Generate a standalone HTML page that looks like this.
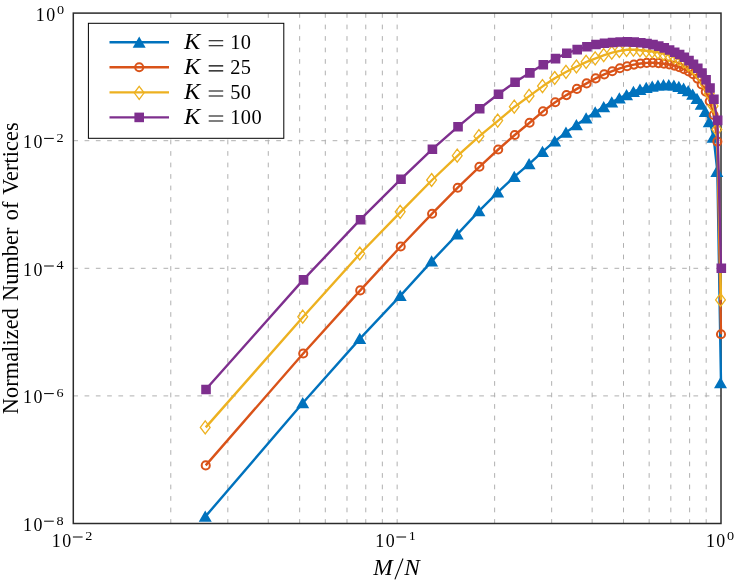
<!DOCTYPE html>
<html><head><meta charset="utf-8"><title>chart</title>
<style>html,body{margin:0;padding:0;background:#fff}svg{display:block;will-change:transform}</style></head>
<body>
<svg width="747" height="585" viewBox="0 0 747 585">
<rect width="747" height="585" fill="#fff"/>
<path d="M170.79 13.1V523.5M227.82 13.1V523.5M268.28 13.1V523.5M299.66 13.1V523.5M325.3 13.1V523.5M346.99 13.1V523.5M365.77 13.1V523.5M382.33 13.1V523.5M494.64 13.1V523.5M551.67 13.1V523.5M592.13 13.1V523.5M623.51 13.1V523.5M649.15 13.1V523.5M670.84 13.1V523.5M689.62 13.1V523.5M706.18 13.1V523.5M397.15 13.1V523.5" fill="none" stroke="#b0b0b0" stroke-width="1" stroke-dasharray="4.7 6.8"/>
<path d="M73.3 140.7H721M73.3 268.3H721M73.3 395.9H721" fill="none" stroke="#b0b0b0" stroke-width="1" stroke-dasharray="4.7 6.575"/>
<rect x="73.3" y="13.1" width="647.7" height="510.4" fill="none" stroke="#2b2b2b" stroke-width="1.5"/>
<polyline fill="none" stroke="#0072BD" stroke-width="2.4" stroke-linejoin="round" points="205.73,516.15 303.22,402.55 360.25,338.35 400.71,295.35 432.1,260.85 457.74,233.85 479.42,210.65 498.2,191.85 514.77,176.45 529.58,163.65 542.99,151.45 555.23,140.95 566.48,132.15 576.91,124.55 586.61,117.95 595.69,111.95 604.21,106.55 612.25,101.85 619.86,97.95 627.07,94.55 633.93,91.45 640.48,89.25 646.73,87.45 652.72,86.15 658.46,85.15 663.97,84.75 669.28,84.75 674.4,85.15 679.33,86.35 684.1,88.25 688.71,90.65 693.18,94.05 697.5,98.35 701.7,104.05 705.78,111.25 709.74,121.65 713.6,137.05 717.35,171.25 721,382.55"/>
<path fill="#0072BD" d="M205.23 510.52L211.73 521.77L198.74 521.77ZM302.72 396.93L309.22 408.18L296.23 408.18ZM359.75 332.73L366.24 343.98L353.25 343.98ZM400.21 289.73L406.71 300.98L393.72 300.98ZM431.6 255.23L438.09 266.48L425.1 266.48ZM457.24 228.22L463.73 239.47L450.74 239.47ZM478.92 205.03L485.41 216.28L472.42 216.28ZM497.7 186.22L504.19 197.47L491.2 197.47ZM514.27 170.82L520.76 182.07L507.77 182.07ZM529.08 158.03L535.58 169.28L522.59 169.28ZM542.49 145.82L548.98 157.07L535.99 157.07ZM554.73 135.32L561.22 146.57L548.23 146.57ZM565.98 126.53L572.48 137.78L559.49 137.78ZM576.41 118.92L582.9 130.18L569.91 130.18ZM586.11 112.32L592.61 123.57L579.62 123.57ZM595.19 106.32L601.68 117.57L588.69 117.57ZM603.71 100.92L610.21 112.17L597.22 112.17ZM611.75 96.22L618.25 107.47L605.26 107.47ZM619.36 92.32L625.85 103.57L612.86 103.57ZM626.57 88.92L633.07 100.17L620.08 100.17ZM633.43 85.82L639.93 97.07L626.94 97.07ZM639.98 83.62L646.47 94.88L633.48 94.88ZM646.23 81.82L652.72 93.07L639.73 93.07ZM652.22 80.52L658.71 91.77L645.72 91.77ZM657.96 79.52L664.45 90.77L651.46 90.77ZM663.47 79.12L669.97 90.38L656.98 90.38ZM668.78 79.12L675.28 90.38L662.29 90.38ZM673.9 79.52L680.39 90.77L667.4 90.77ZM678.83 80.72L685.33 91.97L672.34 91.97ZM683.6 82.62L690.09 93.88L677.1 93.88ZM688.21 85.02L694.71 96.27L681.72 96.27ZM692.68 88.42L699.17 99.67L686.18 99.67ZM697 92.72L703.5 103.97L690.51 103.97ZM701.2 98.42L707.7 109.67L694.71 109.67ZM705.28 105.62L711.78 116.88L698.79 116.88ZM709.24 116.02L715.74 127.27L702.75 127.27ZM713.1 131.42L719.59 142.67L706.6 142.67ZM716.85 165.62L723.34 176.88L710.35 176.88ZM720.5 376.93L727 388.18L714 388.18Z"/>
<polyline fill="none" stroke="#D95319" stroke-width="2.4" stroke-linejoin="round" points="205.73,465.4 303.22,353.5 360.25,290.4 400.71,246.5 432.1,213.7 457.74,187.7 479.42,166.8 498.2,149.5 514.77,135 529.58,122.8 542.99,111.4 555.23,102.3 566.48,95.1 576.91,88.9 586.61,83.4 595.69,78.4 604.21,74.4 612.25,71.2 619.86,68.3 627.07,66.2 633.93,64.6 640.48,63.5 646.73,62.9 652.72,62.8 658.46,63.1 663.97,63.7 669.28,64.5 674.4,65.6 679.33,67.2 684.1,69.2 688.71,71.4 693.18,74.2 697.5,78.6 701.7,84.4 705.78,91.8 709.74,101.2 713.6,115 717.35,141.6 721,334.3"/>
<g fill="none" stroke="#D95319" stroke-width="2"><circle cx="205.73" cy="465.4" r="4.05"/><circle cx="303.22" cy="353.5" r="4.05"/><circle cx="360.25" cy="290.4" r="4.05"/><circle cx="400.71" cy="246.5" r="4.05"/><circle cx="432.1" cy="213.7" r="4.05"/><circle cx="457.74" cy="187.7" r="4.05"/><circle cx="479.42" cy="166.8" r="4.05"/><circle cx="498.2" cy="149.5" r="4.05"/><circle cx="514.77" cy="135" r="4.05"/><circle cx="529.58" cy="122.8" r="4.05"/><circle cx="542.99" cy="111.4" r="4.05"/><circle cx="555.23" cy="102.3" r="4.05"/><circle cx="566.48" cy="95.1" r="4.05"/><circle cx="576.91" cy="88.9" r="4.05"/><circle cx="586.61" cy="83.4" r="4.05"/><circle cx="595.69" cy="78.4" r="4.05"/><circle cx="604.21" cy="74.4" r="4.05"/><circle cx="612.25" cy="71.2" r="4.05"/><circle cx="619.86" cy="68.3" r="4.05"/><circle cx="627.07" cy="66.2" r="4.05"/><circle cx="633.93" cy="64.6" r="4.05"/><circle cx="640.48" cy="63.5" r="4.05"/><circle cx="646.73" cy="62.9" r="4.05"/><circle cx="652.72" cy="62.8" r="4.05"/><circle cx="658.46" cy="63.1" r="4.05"/><circle cx="663.97" cy="63.7" r="4.05"/><circle cx="669.28" cy="64.5" r="4.05"/><circle cx="674.4" cy="65.6" r="4.05"/><circle cx="679.33" cy="67.2" r="4.05"/><circle cx="684.1" cy="69.2" r="4.05"/><circle cx="688.71" cy="71.4" r="4.05"/><circle cx="693.18" cy="74.2" r="4.05"/><circle cx="697.5" cy="78.6" r="4.05"/><circle cx="701.7" cy="84.4" r="4.05"/><circle cx="705.78" cy="91.8" r="4.05"/><circle cx="709.74" cy="101.2" r="4.05"/><circle cx="713.6" cy="115" r="4.05"/><circle cx="717.35" cy="141.6" r="4.05"/><circle cx="721" cy="334.3" r="4.05"/></g>
<polyline fill="none" stroke="#EDB120" stroke-width="2.4" stroke-linejoin="round" points="205.73,427.4 303.22,316.7 360.25,253.5 400.71,211.8 432.1,180 457.74,155.7 479.42,136.2 498.2,120.6 514.77,106.7 529.58,95.9 542.99,86.1 555.23,78 566.48,71.8 576.91,66.5 586.61,61.8 595.69,58.3 604.21,55.1 612.25,52.7 619.86,50.9 627.07,49.8 633.93,49.6 640.48,50.2 646.73,50.8 652.72,51.5 658.46,52.4 663.97,53.8 669.28,55.1 674.4,56.9 679.33,58.9 684.1,61.5 688.71,64.6 693.18,67.9 697.5,71.9 701.7,77 705.78,84.5 709.74,93.5 713.6,105.9 717.35,129.5 721,299.9"/>
<path fill="none" stroke="#EDB120" stroke-width="1.3" stroke-linejoin="miter" d="M205.23 420.9L210.13 427.4L205.23 433.9L200.33 427.4ZM302.72 310.2L307.62 316.7L302.72 323.2L297.82 316.7ZM359.75 247L364.65 253.5L359.75 260L354.85 253.5ZM400.21 205.3L405.11 211.8L400.21 218.3L395.31 211.8ZM431.6 173.5L436.5 180L431.6 186.5L426.7 180ZM457.24 149.2L462.14 155.7L457.24 162.2L452.34 155.7ZM478.92 129.7L483.82 136.2L478.92 142.7L474.02 136.2ZM497.7 114.1L502.6 120.6L497.7 127.1L492.8 120.6ZM514.27 100.2L519.17 106.7L514.27 113.2L509.37 106.7ZM529.08 89.4L533.98 95.9L529.08 102.4L524.18 95.9ZM542.49 79.6L547.39 86.1L542.49 92.6L537.59 86.1ZM554.73 71.5L559.63 78L554.73 84.5L549.83 78ZM565.98 65.3L570.88 71.8L565.98 78.3L561.08 71.8ZM576.41 60L581.31 66.5L576.41 73L571.51 66.5ZM586.11 55.3L591.01 61.8L586.11 68.3L581.21 61.8ZM595.19 51.8L600.09 58.3L595.19 64.8L590.29 58.3ZM603.71 48.6L608.61 55.1L603.71 61.6L598.81 55.1ZM611.75 46.2L616.65 52.7L611.75 59.2L606.85 52.7ZM619.36 44.4L624.26 50.9L619.36 57.4L614.46 50.9ZM626.57 43.3L631.47 49.8L626.57 56.3L621.67 49.8ZM633.43 43.1L638.33 49.6L633.43 56.1L628.53 49.6ZM639.98 43.7L644.88 50.2L639.98 56.7L635.08 50.2ZM646.23 44.3L651.13 50.8L646.23 57.3L641.33 50.8ZM652.22 45L657.12 51.5L652.22 58L647.32 51.5ZM657.96 45.9L662.86 52.4L657.96 58.9L653.06 52.4ZM663.47 47.3L668.37 53.8L663.47 60.3L658.57 53.8ZM668.78 48.6L673.68 55.1L668.78 61.6L663.88 55.1ZM673.9 50.4L678.8 56.9L673.9 63.4L669 56.9ZM678.83 52.4L683.73 58.9L678.83 65.4L673.93 58.9ZM683.6 55L688.5 61.5L683.6 68L678.7 61.5ZM688.21 58.1L693.11 64.6L688.21 71.1L683.31 64.6ZM692.68 61.4L697.58 67.9L692.68 74.4L687.78 67.9ZM697 65.4L701.9 71.9L697 78.4L692.1 71.9ZM701.2 70.5L706.1 77L701.2 83.5L696.3 77ZM705.28 78L710.18 84.5L705.28 91L700.38 84.5ZM709.24 87L714.14 93.5L709.24 100L704.34 93.5ZM713.1 99.4L718 105.9L713.1 112.4L708.2 105.9ZM716.85 123L721.75 129.5L716.85 136L711.95 129.5ZM720.5 293.4L725.4 299.9L720.5 306.4L715.6 299.9Z"/>
<polyline fill="none" stroke="#7E2F8E" stroke-width="2.4" stroke-linejoin="round" points="205.73,389.5 303.22,279.9 360.25,219.7 400.71,179.3 432.1,149.3 457.74,126.8 479.42,108.8 498.2,94.3 514.77,82.3 529.58,72.9 542.99,64.8 555.23,58.6 566.48,53.3 576.91,49.6 586.61,46.8 595.69,44.5 604.21,43.2 612.25,42.5 619.86,42 627.07,41.9 633.93,42.1 640.48,42.7 646.73,43.5 652.72,44.6 658.46,46.1 663.97,47.9 669.28,50 674.4,52.2 679.33,54.5 684.1,57.2 688.71,60.6 693.18,64.2 697.5,68.2 701.7,73 705.78,79.8 709.74,88 713.6,99.3 717.35,120.4 721,268.3"/>
<path fill="#7E2F8E" d="M201.23 384.7h9.6v9.6h-9.6ZM298.72 275.1h9.6v9.6h-9.6ZM355.75 214.9h9.6v9.6h-9.6ZM396.21 174.5h9.6v9.6h-9.6ZM427.6 144.5h9.6v9.6h-9.6ZM453.24 122h9.6v9.6h-9.6ZM474.92 104h9.6v9.6h-9.6ZM493.7 89.5h9.6v9.6h-9.6ZM510.27 77.5h9.6v9.6h-9.6ZM525.08 68.1h9.6v9.6h-9.6ZM538.49 60h9.6v9.6h-9.6ZM550.73 53.8h9.6v9.6h-9.6ZM561.98 48.5h9.6v9.6h-9.6ZM572.41 44.8h9.6v9.6h-9.6ZM582.11 42h9.6v9.6h-9.6ZM591.19 39.7h9.6v9.6h-9.6ZM599.71 38.4h9.6v9.6h-9.6ZM607.75 37.7h9.6v9.6h-9.6ZM615.36 37.2h9.6v9.6h-9.6ZM622.57 37.1h9.6v9.6h-9.6ZM629.43 37.3h9.6v9.6h-9.6ZM635.98 37.9h9.6v9.6h-9.6ZM642.23 38.7h9.6v9.6h-9.6ZM648.22 39.8h9.6v9.6h-9.6ZM653.96 41.3h9.6v9.6h-9.6ZM659.47 43.1h9.6v9.6h-9.6ZM664.78 45.2h9.6v9.6h-9.6ZM669.9 47.4h9.6v9.6h-9.6ZM674.83 49.7h9.6v9.6h-9.6ZM679.6 52.4h9.6v9.6h-9.6ZM684.21 55.8h9.6v9.6h-9.6ZM688.68 59.4h9.6v9.6h-9.6ZM693 63.4h9.6v9.6h-9.6ZM697.2 68.2h9.6v9.6h-9.6ZM701.28 75h9.6v9.6h-9.6ZM705.24 83.2h9.6v9.6h-9.6ZM709.1 94.5h9.6v9.6h-9.6ZM712.85 115.6h9.6v9.6h-9.6ZM716.5 263.5h9.6v9.6h-9.6Z"/>
<rect x="88.4" y="23.3" width="195.4" height="115" fill="#fff" stroke="#000" stroke-width="1"/>
<path d="M109.5 42.2H169" stroke="#0072BD" stroke-width="2.4" fill="none"/>
<path fill="#0072BD" d="M139.2 36.58L145.69 47.83L132.7 47.83Z"/>
<text x="184.1" y="48.8" font-family="'Liberation Serif',serif" font-size="22.2" font-style="italic" transform="translate(184.1 0) scale(1.1 1) translate(-184.1 0)">K</text>
<path d="M208.7 40.8h14.5M208.7 45.75h14.5" stroke="#000" stroke-width="1.1" fill="none"/>
<text x="230.2" y="48.8" font-family="'Liberation Serif',serif" font-size="20.4" letter-spacing="0.4">10</text>
<path d="M109.5 67.3H169" stroke="#D95319" stroke-width="2.4" fill="none"/>
<circle cx="139.2" cy="67.3" r="4.05" fill="none" stroke="#D95319" stroke-width="2"/>
<text x="184.1" y="73.9" font-family="'Liberation Serif',serif" font-size="22.2" font-style="italic" transform="translate(184.1 0) scale(1.1 1) translate(-184.1 0)">K</text>
<path d="M208.7 65.9h14.5M208.7 70.85h14.5" stroke="#000" stroke-width="1.1" fill="none"/>
<text x="230.2" y="73.9" font-family="'Liberation Serif',serif" font-size="20.4" letter-spacing="0.4">25</text>
<path d="M109.5 92.4H169" stroke="#EDB120" stroke-width="2.4" fill="none"/>
<path fill="none" stroke="#EDB120" stroke-width="1.3" d="M139.2 86.3L144.1 92.8L139.2 99.3L134.3 92.8Z"/>
<text x="184.1" y="99" font-family="'Liberation Serif',serif" font-size="22.2" font-style="italic" transform="translate(184.1 0) scale(1.1 1) translate(-184.1 0)">K</text>
<path d="M208.7 91h14.5M208.7 95.95h14.5" stroke="#000" stroke-width="1.1" fill="none"/>
<text x="230.2" y="99" font-family="'Liberation Serif',serif" font-size="20.4" letter-spacing="0.4">50</text>
<path d="M109.5 117.4H169" stroke="#7E2F8E" stroke-width="2.4" fill="none"/>
<path fill="#7E2F8E" d="M134.4 112.6h9.6v9.6h-9.6Z"/>
<text x="184.1" y="124" font-family="'Liberation Serif',serif" font-size="22.2" font-style="italic" transform="translate(184.1 0) scale(1.1 1) translate(-184.1 0)">K</text>
<path d="M208.7 116h14.5M208.7 120.95h14.5" stroke="#000" stroke-width="1.1" fill="none"/>
<text x="230.2" y="124" font-family="'Liberation Serif',serif" font-size="20.4" letter-spacing="0.4">100</text>
<text x="35.7" y="20.5" font-family="'Liberation Serif',serif" font-size="17.9" letter-spacing="1.5">10</text><text x="60.45" y="14.1" text-anchor="middle" font-family="'Liberation Serif',serif" font-size="13.0" textLength="7.1" lengthAdjust="spacingAndGlyphs">0</text>
<text x="23" y="148.1" font-family="'Liberation Serif',serif" font-size="17.9" letter-spacing="1.5">10</text><path d="M44.1 138.4h9.7" stroke="#000" stroke-width="1" fill="none"/><text x="60.1" y="141.7" text-anchor="middle" font-family="'Liberation Serif',serif" font-size="13.0" textLength="7.1" lengthAdjust="spacingAndGlyphs">2</text>
<text x="23" y="275.7" font-family="'Liberation Serif',serif" font-size="17.9" letter-spacing="1.5">10</text><path d="M44.1 266h9.7" stroke="#000" stroke-width="1" fill="none"/><text x="60.1" y="269.3" text-anchor="middle" font-family="'Liberation Serif',serif" font-size="13.0" textLength="7.1" lengthAdjust="spacingAndGlyphs">4</text>
<text x="23" y="403.3" font-family="'Liberation Serif',serif" font-size="17.9" letter-spacing="1.5">10</text><path d="M44.1 393.6h9.7" stroke="#000" stroke-width="1" fill="none"/><text x="60.1" y="396.9" text-anchor="middle" font-family="'Liberation Serif',serif" font-size="13.0" textLength="7.1" lengthAdjust="spacingAndGlyphs">6</text>
<text x="23" y="530.9" font-family="'Liberation Serif',serif" font-size="17.9" letter-spacing="1.5">10</text><path d="M44.1 521.2h9.7" stroke="#000" stroke-width="1" fill="none"/><text x="60.1" y="524.5" text-anchor="middle" font-family="'Liberation Serif',serif" font-size="13.0" textLength="7.1" lengthAdjust="spacingAndGlyphs">8</text>
<text x="51.8" y="546.7" font-family="'Liberation Serif',serif" font-size="17.9" letter-spacing="1.5">10</text><path d="M72.9 537h9.7" stroke="#000" stroke-width="1" fill="none"/><text x="88.9" y="540.3" text-anchor="middle" font-family="'Liberation Serif',serif" font-size="13.0" textLength="7.1" lengthAdjust="spacingAndGlyphs">2</text>
<text x="375.3" y="546.7" font-family="'Liberation Serif',serif" font-size="17.9" letter-spacing="1.5">10</text><path d="M396.4 537h9.7" stroke="#000" stroke-width="1" fill="none"/><text x="412.4" y="540.3" text-anchor="middle" font-family="'Liberation Serif',serif" font-size="13.0" textLength="7.1" lengthAdjust="spacingAndGlyphs">1</text>
<text x="705.9" y="546.7" font-family="'Liberation Serif',serif" font-size="17.9" letter-spacing="1.5">10</text><text x="730.65" y="540.3" text-anchor="middle" font-family="'Liberation Serif',serif" font-size="13.0" textLength="7.1" lengthAdjust="spacingAndGlyphs">0</text>
<text x="373.3" y="574.8" font-family="'Liberation Serif',serif" font-size="22.3" font-style="italic" transform="translate(373.3 0) scale(1.05 1) translate(-373.3 0)">M</text>
<path d="M394.9 579.4L403.0 558.5" stroke="#000" stroke-width="1.1" fill="none"/>
<text x="404.2" y="574.8" font-family="'Liberation Serif',serif" font-size="22.3" font-style="italic" transform="translate(404.2 0) scale(1.05 1) translate(-404.2 0)">N</text>
<text transform="translate(18 268.3) rotate(-90)" text-anchor="middle" font-family="'Liberation Serif',serif" font-size="22.3" textLength="291.8" lengthAdjust="spacing" word-spacing="1.5">Normalized Number of Vertices</text>
</svg>
</body></html>
